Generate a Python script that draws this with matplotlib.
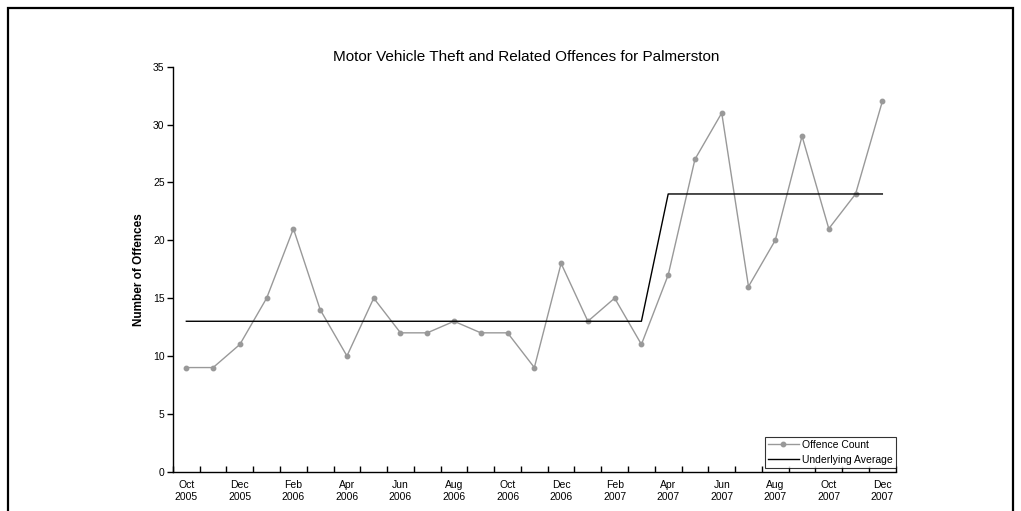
import matplotlib.pyplot as plt
from matplotlib.patches import Rectangle

plt.rcParams['font.family'] = ['Liberation Sans', 'DejaVu Sans']

# Monthly offence counts, Oct 2005 - Dec 2007
months = ['Oct 2005', 'Nov 2005', 'Dec 2005', 'Jan 2006', 'Feb 2006', 'Mar 2006',
          'Apr 2006', 'May 2006', 'Jun 2006', 'Jul 2006', 'Aug 2006', 'Sep 2006',
          'Oct 2006', 'Nov 2006', 'Dec 2006', 'Jan 2007', 'Feb 2007', 'Mar 2007',
          'Apr 2007', 'May 2007', 'Jun 2007', 'Jul 2007', 'Aug 2007', 'Sep 2007',
          'Oct 2007', 'Nov 2007', 'Dec 2007']
offence_count = [9, 9, 11, 15, 21, 14, 10, 15, 12, 12, 13, 12, 12, 9, 18, 13, 15, 11,
                 17, 27, 31, 16, 20, 29, 21, 24, 32]
underlying_avg = [13] * 18 + [24] * 9

fig = plt.figure(figsize=(10.21, 5.11), dpi=100)
ax = fig.add_axes([0.1694, 0.0769, 0.7079, 0.7926])

x = [i + 0.5 for i in range(len(months))]
ax.plot(x, offence_count, color='#999999', linewidth=1.0, marker='o', markersize=3.2,
        label='Offence Count')
ax.plot(x, underlying_avg, color='black', linewidth=1.0, label='Underlying Average')

ax.set_xlim(0, len(months))
ax.set_ylim(0, 35)
ax.set_yticks(range(0, 36, 5))

# month boundaries as inward ticks, labels every second month centred on the month
ax.set_xticks(range(len(months) + 1))
ax.set_xticklabels([])
ax.set_xticks(x[::2], minor=True)
ax.set_xticklabels([m.replace(' ', '\n') for m in months[::2]], minor=True)
ax.tick_params(axis='x', which='major', direction='in', length=4, width=1)
ax.tick_params(axis='x', which='minor', length=0, pad=6, labelsize=7.5)
ax.tick_params(axis='y', direction='out', length=4, width=1, labelsize=7.5, pad=2)

for s in ['top', 'right']:
    ax.spines[s].set_visible(False)
for s in ['left', 'bottom']:
    ax.spines[s].set_linewidth(1.0)

ax.set_ylabel('Number of Offences', fontsize=8.5, fontweight='bold', labelpad=6)
fig.text(0.515, 0.889, 'Motor Vehicle Theft and Related Offences for Palmerston',
         ha='center', va='center', fontsize=11)

leg = ax.legend(loc='lower right', bbox_to_anchor=(0.8776, 0.0841),
                bbox_transform=fig.transFigure, fontsize=7.5, frameon=True,
                fancybox=False, borderaxespad=0, handlelength=3, borderpad=0.3,
                labelspacing=0.5, handletextpad=0.3)
leg.get_frame().set_edgecolor('black')
leg.get_frame().set_linewidth(0.8)

fig.patches.append(Rectangle((8 / 1021, -0.02), 1005 / 1021, 1.02 - 8 / 511,
                             transform=fig.transFigure, fill=False,
                             edgecolor='black', linewidth=1.6))

fig.savefig('out.png', dpi=100)
